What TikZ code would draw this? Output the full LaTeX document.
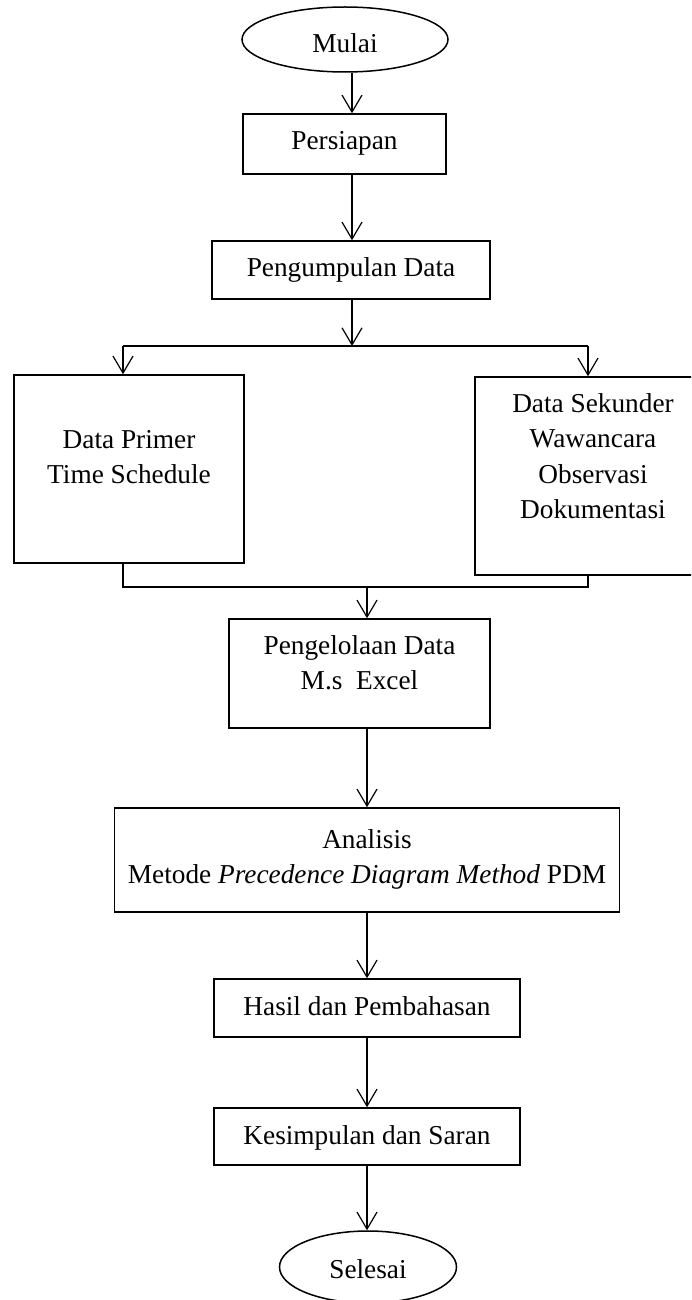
\documentclass[tikz,border=0pt]{standalone}
\usepackage{fontspec}
\setmainfont{Liberation Serif}
\usetikzlibrary{shapes.geometric,arrows.meta}
\newcommand{\ml}[1]{\begin{tabular}[t]{@{}c@{}}#1\end{tabular}}
\begin{document}
\begin{tikzpicture}[x=1bp,y=-1bp,
  every node/.style={font=\fontsize{27.3bp}{35.5bp}\selectfont},
  box/.style={draw,line width=1.5bp,rectangle,inner sep=0pt},
  term/.style={draw,line width=1.5bp,ellipse,inner sep=0pt,text depth=0pt},
  ln/.style={line width=1.2bp},
  arr/.style={line width=1.2bp,-{Straight Barb[length=17bp,width=20bp]}}]
\useasboundingbox (0,0) rectangle (691,1300);
\clip (0,0) rectangle (691,1300);
% nodes
\node[term,minimum width=206bp,minimum height=65bp,text height=27bp] (mulai) at (345,39.5) {Mulai};
\node[box,minimum width=203bp,text height=36bp,text depth=24bp] (pers) at (344.5,144) {Persiapan};
\node[box,minimum width=278bp,text height=36bp,text depth=22bp] (kump) at (351,270) {Pengumpulan Data};
\node[box,minimum width=230bp,text height=73bp,text depth=115bp] (prim) at (129,469) {\ml{Data Primer\\Time Schedule}};
\node[box,minimum width=236bp,text height=35bp,text depth=163bp] (sek) at (593,476) {\ml{Data Sekunder\\Wawancara\\Observasi\\Dokumentasi}};
\node[box,minimum width=261bp,text height=35bp,text depth=74bp] (olah) at (359.5,673.5) {\ml{Pengelolaan Data\\M.s\ \ Excel}};
\node[box,minimum width=505bp,text height=40bp,text depth=64bp] (anal) at (367,860) {\ml{Analisis\\Metode \textit{Precedence Diagram Method} PDM}};
\node[box,minimum width=306bp,text height=36bp,text depth=22bp] (hasil) at (367,1008) {Hasil dan Pembahasan};
\node[box,minimum width=306bp,text height=36bp,text depth=21bp] (simp) at (367,1136.5) {Kesimpulan dan Saran};
\node[term,minimum width=177bp,minimum height=72bp,text height=22bp] (sel) at (368,1267) {Selesai};
% helper coordinates
\coordinate (xa) at (352,0);
\coordinate (xb) at (367,0);
\coordinate (split) at (352,346);
\coordinate (sl) at (123,346);
\coordinate (sr) at (588,346);
\coordinate (jl) at (123,587);
\coordinate (jr) at (588,587);
\coordinate (jc) at (367,587);
% connectors
\draw[arr] (mulai.south -| xa) -- (pers.north -| xa);
\draw[arr] (pers.south -| xa) -- (kump.north -| xa);
\draw[arr] (kump.south -| xa) -- (split);
\draw[ln] (sl) -- (sr);
\draw[arr] (sl) -- (prim.north -| sl);
\draw[arr] (sr) -- (sek.north -| sr);
\draw[ln] (prim.south -| jl) -- (jl) -- (jr) -- (sek.south -| jr);
\draw[arr] (jc) -- (olah.north -| jc);
\draw[arr] (olah.south -| xb) -- (anal.north -| xb);
\draw[arr] (anal.south -| xb) -- (hasil.north -| xb);
\draw[arr] (hasil.south -| xb) -- (simp.north -| xb);
\draw[arr] (simp.south -| xb) -- (sel.north -| xb);
\end{tikzpicture}
\end{document}
